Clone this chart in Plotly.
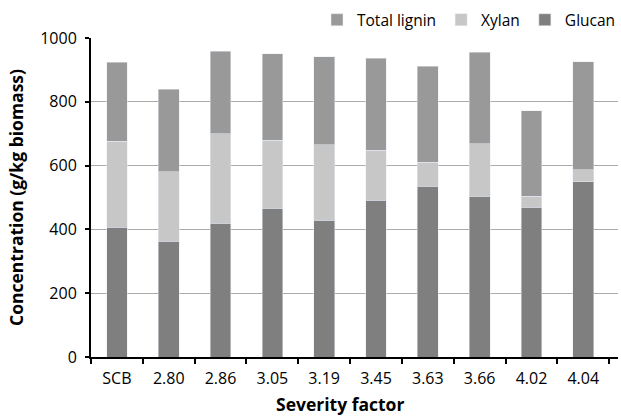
import plotly.graph_objects as go

categories = ["SCB", "2.80", "2.86", "3.05", "3.19", "3.45", "3.63", "3.66", "4.02", "4.04"]
glucan = [406, 363, 419, 467, 428, 492, 536, 504, 469, 550]
xylan = [271, 218, 281, 213, 237, 156, 75, 165, 35, 37]
lignin = [247, 259, 259, 271, 276, 289, 301, 286, 268, 339]
y_ticks = [0, 200, 400, 600, 800, 1000]

FONT = "Open Sans"

fig = go.Figure()
fig.add_trace(go.Bar(name="Glucan", x=categories, y=glucan, marker_color="#7f7f7f"))
fig.add_trace(go.Bar(name="Xylan", x=categories, y=xylan, marker_color="#c6c7c6"))
fig.add_trace(go.Bar(name="Total lignin", x=categories, y=lignin, marker_color="#999999"))

fig.update_layout(
    width=621, height=417,
    margin=dict(l=91, r=0, t=38, b=60),
    barmode="stack", bargap=0.6,
    plot_bgcolor="white", paper_bgcolor="white",
    font=dict(family=FONT, size=15.5, color="#000"),
    showlegend=True,
    legend=dict(orientation="h", traceorder="reversed", x=1.006, xanchor="right",
                y=1.056, yanchor="middle", font=dict(size=15.5), itemwidth=30,
                bgcolor="rgba(0,0,0,0)"),
    annotations=[dict(text="<b>Severity factor</b>", xref="paper", yref="paper",
                      x=(341 - 91) / 530, y=-(404 - 357.3) / 319.6, xanchor="center",
                      yanchor="middle", showarrow=False, font=dict(size=17.5))],
)
fig.update_xaxes(
    type="category", range=[-0.5, 9.67], showline=True, linecolor="#000", linewidth=2,
    ticks="outside", ticklen=5, tickwidth=1.5, tickcolor="#000", tickson="boundaries",
    showgrid=False, ticklabelstandoff=6, tickfont=dict(size=16),
)
fig.update_yaxes(
    range=[0, 1000], tickvals=y_ticks, showline=True, linecolor="#000", linewidth=2,
    ticks="outside", ticklen=4, tickwidth=1.5, tickcolor="#000",
    showgrid=True, gridcolor="#ababab", gridwidth=1, zeroline=False,
    ticklabelstandoff=5, tickfont=dict(size=16),
    title=dict(text="<b>Concentration (g/kg biomass)</b>", font=dict(size=17.5), standoff=12),
)

fig.write_html("out.html")
